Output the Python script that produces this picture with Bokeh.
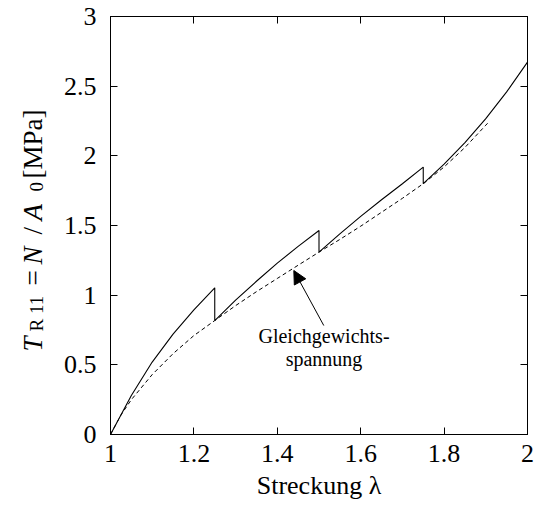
import math
from bokeh.plotting import figure
from bokeh.models import Range1d, LinearAxis, FixedTicker, Label, Arrow, NormalHead
from bokeh.layouts import row
from bokeh.embed import file_html
from bokeh.resources import INLINE

# ---- data ----
lam_solid = [1.0, 1.05, 1.1, 1.15, 1.2, 1.25,
             1.25, 1.3, 1.35, 1.4, 1.45, 1.5,
             1.5, 1.55, 1.6, 1.65, 1.7, 1.75,
             1.75, 1.8, 1.85, 1.9, 1.95, 2.0]
T_solid = [0.0, 0.28, 0.52, 0.72, 0.895, 1.053,
           0.818, 0.965, 1.10, 1.23, 1.35, 1.464,
           1.309, 1.44, 1.565, 1.685, 1.80, 1.919,
           1.80, 1.94, 2.095, 2.267, 2.459, 2.673]

lam_eq = [1.0, 1.025, 1.05, 1.1, 1.15, 1.2, 1.25, 1.3, 1.35, 1.4, 1.45,
          1.5, 1.55, 1.6, 1.65, 1.7, 1.75, 1.8, 1.85, 1.9, 1.907]
T_eq = [0.0, 0.14, 0.25, 0.43, 0.58, 0.71, 0.818, 0.925, 1.025, 1.12, 1.215,
        1.309, 1.40, 1.495, 1.595, 1.695, 1.80, 1.92, 2.06, 2.22, 2.242]

x_ticks = [1.0, 1.2, 1.4, 1.6, 1.8, 2.0]
x_tick_labels = ["1", "1.2", "1.4", "1.6", "1.8", "2"]
y_ticks = [0.0, 0.5, 1.0, 1.5, 2.0, 2.5, 3.0]
y_tick_labels = ["0", "0.5", "1", "1.5", "2", "2.5", "3"]

x_label = "Streckung λ"
# y label pieces: T_{R 11} = N/A_0 [MPa]
y_label_pieces = ["T", "R 11", "=", "N", "/", "A", "0", "[MPa]"]

FONT = "Liberation Serif"
LAB_W = 59           # left strip holding the rotated y axis title
TOP, BOTTOM = 16, 79

# ---------------- main plot ----------------
p = figure(width=536 - LAB_W, height=513, output_backend="svg", toolbar_location=None,
           x_range=Range1d(1, 2), y_range=Range1d(0, 3),
           min_border_left=110 - LAB_W, min_border_right=9,
           min_border_top=TOP, min_border_bottom=BOTTOM)
p.background_fill_color = "white"
p.border_fill_color = "white"
p.outline_line_color = "black"
p.outline_line_width = 1
p.grid.visible = False

for ax, ticks, labels in ((p.xaxis[0], x_ticks, x_tick_labels),
                          (p.yaxis[0], y_ticks, y_tick_labels)):
    ax.ticker = FixedTicker(ticks=ticks)
    ax.major_label_overrides = {t: l for t, l in zip(ticks, labels)}
    ax.major_tick_in = 7
    ax.major_tick_out = 0
    ax.minor_tick_in = 0
    ax.minor_tick_out = 0
    ax.axis_line_color = "black"
    ax.major_tick_line_color = "black"
    ax.major_label_text_font = FONT
    ax.major_label_text_font_size = "26px"
    ax.major_label_text_color = "black"

xa = p.xaxis[0]
xa.major_label_standoff = 10
xa.axis_label = x_label
xa.axis_label_text_font = FONT
xa.axis_label_text_font_size = "26px"
xa.axis_label_text_font_style = "normal"
xa.axis_label_text_color = "black"
xa.axis_label_standoff = 6

p.yaxis[0].major_label_standoff = 14

top = LinearAxis(ticker=FixedTicker(ticks=x_ticks), major_tick_in=7, major_tick_out=0,
                 minor_tick_in=0, minor_tick_out=0, major_label_text_font_size="1px",
                 major_label_text_color=None, major_label_standoff=0,
                 axis_line_color="black")
right = LinearAxis(ticker=FixedTicker(ticks=y_ticks), major_tick_in=7, major_tick_out=0,
                   minor_tick_in=0, minor_tick_out=0, major_label_text_font_size="1px",
                   major_label_text_color=None, major_label_standoff=0,
                   axis_line_color="black")
p.add_layout(top, "above")
p.add_layout(right, "right")

# curves
p.line(lam_solid, T_solid, line_color="black", line_width=1.1)
p.line(lam_eq, T_eq, line_color="black", line_width=1, line_dash="4 3")

# annotation
p.add_layout(Arrow(end=NormalHead(size=13, fill_color="black", line_color="black"),
                   x_start=1.5115, y_start=0.782, x_end=1.4396, y_end=1.177,
                   line_color="black", line_width=1))
p.add_layout(Label(x=1.512, y=0.710, text="Gleichgewichts-", text_align="center",
                   text_baseline="alphabetic", text_font=FONT, text_font_size="20px",
                   text_color="black"))
p.add_layout(Label(x=1.512, y=0.545, text="spannung", text_align="center",
                   text_baseline="alphabetic", text_font=FONT, text_font_size="20px",
                   text_color="black"))

# ---------------- left strip: rotated y axis title ----------------
lab = figure(width=LAB_W, height=513, output_backend="svg", toolbar_location=None,
             x_range=Range1d(0, LAB_W), y_range=Range1d(0, 3),
             x_axis_location=None, y_axis_location=None, title=None,
             min_border_left=0, min_border_right=0, min_border_top=TOP,
             min_border_bottom=BOTTOM)
lab.grid.visible = False
lab.outline_line_color = None
lab.background_fill_color = "white"
lab.border_fill_color = "white"

piece_pos = [(32, 0.596, "27px", "italic"),
             (36, 0.739, "19px", "normal"),
             (32, 1.069, "27px", "normal"),
             (32, 1.220, "27px", "italic"),
             (32, 1.435, "27px", "normal"),
             (32, 1.536, "27px", "italic"),
             (36, 1.744, "19px", "normal"),
             (32, 1.837, "27px", "normal")]
for txt, (xx, yy, fs, st) in zip(y_label_pieces, piece_pos):
    lab.text(x=[xx], y=[yy], text=[txt], angle=math.pi / 2, text_align="left",
             text_baseline="alphabetic", text_font={"value": FONT},
             text_font_size={"value": fs}, text_font_style=st, text_color="black")

layout = row(lab, p)
open("out.html", "w").write(file_html(layout, INLINE))
